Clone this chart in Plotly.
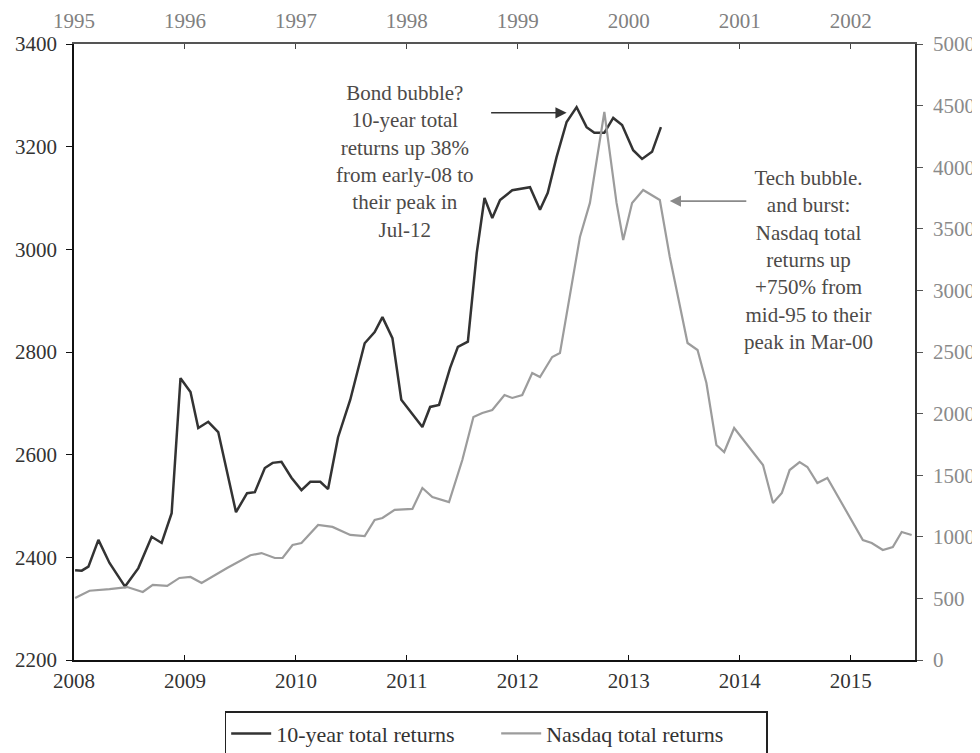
import plotly.graph_objects as go

# ---- Data ----
# 10-year total returns (bottom axis 2008-2015, left axis)
bond_years = [2008.01, 2008.07, 2008.13, 2008.22, 2008.32, 2008.46, 2008.58, 2008.70, 2008.79, 2008.88,
              2008.96, 2009.05, 2009.12, 2009.21, 2009.30, 2009.46, 2009.56, 2009.63, 2009.72, 2009.79,
              2009.87, 2009.96, 2010.05, 2010.13, 2010.22, 2010.29, 2010.38, 2010.49, 2010.62, 2010.71,
              2010.78, 2010.87, 2010.95, 2011.14, 2011.21, 2011.29, 2011.39, 2011.46, 2011.55, 2011.63,
              2011.70, 2011.77, 2011.84, 2011.95, 2012.11, 2012.20, 2012.27, 2012.35, 2012.44, 2012.53,
              2012.62, 2012.69, 2012.78, 2012.86, 2012.94, 2013.04, 2013.12, 2013.21, 2013.29]
bond_returns = [2375, 2374, 2382, 2434, 2389, 2343, 2379, 2440, 2428, 2486,
                2749, 2722, 2652, 2664, 2644, 2488, 2525, 2527, 2574, 2584,
                2586, 2555, 2531, 2547, 2547, 2533, 2634, 2707, 2817, 2839,
                2868, 2827, 2707, 2654, 2693, 2697, 2769, 2810, 2820, 2993,
                3100, 3061, 3096, 3115, 3121, 3077, 3110, 3180, 3248, 3277,
                3238, 3227, 3227, 3256, 3242, 3193, 3176, 3190, 3238]

# Nasdaq total returns (top axis 1995-2002, right axis)
nasdaq_years = [1995.01, 1995.14, 1995.32, 1995.48, 1995.62, 1995.71, 1995.84, 1995.95, 1996.05, 1996.15,
                1996.38, 1996.59, 1996.69, 1996.81, 1996.88, 1996.97, 1997.05, 1997.20, 1997.33, 1997.49,
                1997.62, 1997.71, 1997.78, 1997.89, 1998.05, 1998.14, 1998.23, 1998.38, 1998.50, 1998.60,
                1998.68, 1998.77, 1998.88, 1998.95, 1999.04, 1999.13, 1999.20, 1999.31, 1999.38, 1999.47,
                1999.56, 1999.65, 1999.78, 1999.89, 1999.95, 2000.03, 2000.13, 2000.28, 2000.37, 2000.53,
                2000.62, 2000.70, 2000.79, 2000.86, 2000.95, 2001.21, 2001.30, 2001.38, 2001.45, 2001.54,
                2001.61, 2001.70, 2001.79, 2002.11, 2002.19, 2002.29, 2002.38, 2002.46, 2002.55]
nasdaq_returns = [503, 562, 576, 592, 552, 609, 601, 666, 674, 625,
                  747, 850, 868, 828, 828, 933, 950, 1096, 1080, 1015,
                  1006, 1136, 1153, 1218, 1226, 1396, 1323, 1282, 1623, 1972,
                  2005, 2029, 2151, 2127, 2151, 2330, 2297, 2459, 2492, 2946,
                  3433, 3710, 4448, 3710, 3409, 3710, 3815, 3734, 3271, 2573,
                  2516, 2248, 1745, 1688, 1883, 1583, 1274, 1356, 1542, 1607,
                  1567, 1437, 1477, 974, 950, 893, 917, 1039, 1015]

bottom_ticks = [2008, 2009, 2010, 2011, 2012, 2013, 2014, 2015]
top_ticks = [1995, 1996, 1997, 1998, 1999, 2000, 2001, 2002]
left_ticks = [2200, 2400, 2600, 2800, 3000, 3200, 3400]
right_ticks = [0, 500, 1000, 1500, 2000, 2500, 3000, 3500, 4000, 4500, 5000]

FONT = "Liberation Serif"
TICK_SIZE = 21

fig = go.Figure()
fig.add_trace(go.Scatter(
    x=bond_years, y=bond_returns, mode="lines", name="10-year total returns",
    line=dict(color="#333333", width=2.5), xaxis="x", yaxis="y"))
fig.add_trace(go.Scatter(
    x=nasdaq_years, y=nasdaq_returns, mode="lines", name="Nasdaq total returns",
    line=dict(color="#9c9c9c", width=2.2), xaxis="x2", yaxis="y2"))

fig.update_layout(
    width=972, height=770,
    margin=dict(l=66, r=65, t=36, b=118),
    paper_bgcolor="white", plot_bgcolor="white",
    font=dict(family=FONT, size=18, color="#333333"),
    showlegend=True,
    legend=dict(orientation="h", x=0.502, xanchor="center", y=-0.083, yanchor="top",
                bordercolor="#222222", borderwidth=1.5, bgcolor="white",
                font=dict(family=FONT, size=22, color="#333333"),
                entrywidth=215, itemwidth=40),
    xaxis=dict(range=[2008, 2015.58], tickvals=bottom_ticks, ticktext=[str(t) for t in bottom_ticks],
               showline=True, linecolor="#111111", linewidth=1.6, ticks="inside", ticklen=5,
               tickcolor="#111111", tickwidth=1.4, showgrid=False, zeroline=False, automargin=False,
               ticklabelstandoff=1,
               tickfont=dict(family=FONT, size=TICK_SIZE, color="#333333"), fixedrange=True),
    xaxis2=dict(range=[1995, 2002.58], tickvals=top_ticks, ticktext=[str(t) for t in top_ticks],
                overlaying="x", side="top", showline=True, linecolor="#555555", linewidth=1.6,
                ticks="inside", ticklen=5, tickcolor="#444444", tickwidth=1.4, automargin=False,
                showgrid=False, zeroline=False, ticklabelstandoff=6,
                tickfont=dict(family=FONT, size=TICK_SIZE, color="#808080")),
    yaxis=dict(range=[2200, 3400], tickvals=left_ticks, showline=True, linecolor="#111111",
               linewidth=1.6, ticks="outside", ticklen=6, tickcolor="#111111", tickwidth=1.4,
               showgrid=False, zeroline=False, automargin=False, ticklabelstandoff=5,
               tickfont=dict(family=FONT, size=TICK_SIZE, color="#333333")),
    yaxis2=dict(range=[0, 5000], tickvals=right_ticks, overlaying="y", side="right",
                showline=True, linecolor="#333333", linewidth=1.6, ticks="outside", ticklen=6,
                tickcolor="#555555", tickwidth=1.4, showgrid=False, zeroline=False, automargin=False,
                ticklabelstandoff=6,
                tickfont=dict(family=FONT, size=TICK_SIZE, color="#8a8a8a")),
)

# Text annotations
fig.add_annotation(
    xref="paper", yref="paper", x=0.394, y=0.81, xanchor="center", yanchor="middle",
    showarrow=False, align="center",
    text="Bond bubble?<br>10-year total<br>returns up 38%<br>from early-08 to<br>their peak in<br>Jul-12",
    font=dict(family=FONT, size=21, color="#4d4a48"))
fig.add_annotation(
    xref="paper", yref="paper", x=0.873, y=0.650, xanchor="center", yanchor="middle",
    showarrow=False, align="center",
    text="Tech bubble.<br>and burst:<br>Nasdaq total<br>returns up<br>+750% from<br>mid-95 to their<br>peak in Mar-00",
    font=dict(family=FONT, size=21, color="#4d4a48"))

# Arrows
fig.add_annotation(
    xref="x", yref="y", x=2012.44, y=3266, ax=-77, ay=0, axref="pixel", ayref="pixel",
    text="", showarrow=True, arrowhead=2, arrowsize=1.4, arrowwidth=1.6, arrowcolor="#333333")
fig.add_annotation(
    xref="x", yref="y", x=2013.37, y=3094, ax=78, ay=0, axref="pixel", ayref="pixel",
    text="", showarrow=True, arrowhead=2, arrowsize=1.4, arrowwidth=1.6, arrowcolor="#8a8a8a")

fig.write_html("out.html")
